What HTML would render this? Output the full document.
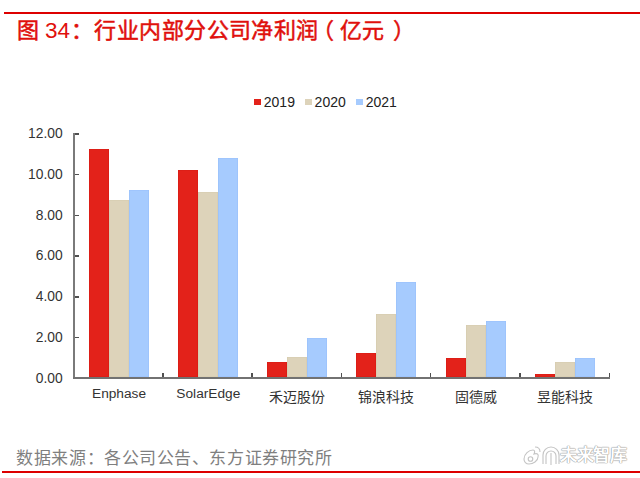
<!DOCTYPE html>
<html lang="zh-CN"><head><meta charset="utf-8">
<style>
*{margin:0;padding:0;box-sizing:border-box}
html,body{width:640px;height:478px;background:#fff;overflow:hidden}
body{position:relative;font-family:"Liberation Sans",sans-serif}
#tl{position:absolute;left:4px;top:12px;width:636px;height:2px;background:#dd0000}
#bl{position:absolute;left:2px;top:471px;width:638px;height:2px;background:#dd0000}
.t{position:absolute;top:18px;font-size:22px;line-height:26px;color:#e0100c;white-space:nowrap;-webkit-text-stroke:0.5px #e0100c}
.t.n{font-size:22.5px;top:17.8px;-webkit-text-stroke:0}
#foot{position:absolute;left:16.4px;top:449px;font-size:17px;letter-spacing:0.55px;line-height:20px;color:#7f7f7f;white-space:nowrap}
.wm{position:absolute;top:443px;font-size:17px;line-height:22px;color:#fff;white-space:nowrap;font-weight:bold;text-shadow:0 0 1px #999,0 0 1px #999,0 0 1px #999}
.bar{position:absolute}
#yax{position:absolute;left:73px;top:133px;width:2px;height:246px;background:#7a7a7a}
#xax{position:absolute;left:73px;top:377px;width:537px;height:2px;background:#727272}
.yt{position:absolute;left:75px;width:4px;height:1.5px;background:#505050}
.xt{position:absolute;top:373px;width:1.5px;height:4px;background:#505050}
.yl{position:absolute;left:12.6px;width:50px;text-align:right;font-size:13.8px;line-height:20px;color:#333;}
.xl{position:absolute;width:100px;text-align:center;font-size:13.5px;line-height:20px;color:#333;white-space:nowrap}
.lg{position:absolute;top:98.5px;width:6.8px;height:6.5px}
.lt{position:absolute;top:92.5px;font-size:14px;line-height:18px;color:#222}
</style></head><body>
<div id="tl"></div>
<div class="t" style="left:16.5px">图</div>
<div class="t n" style="left:44.9px">34</div>
<div class="t" style="left:71px">：</div>
<div class="t" style="left:94.3px;letter-spacing:0.45px">行业内部分公司净利润</div>
<div class="t" style="left:311.8px">（</div>
<div class="t" style="left:340px;letter-spacing:0.45px">亿元</div>
<div class="t" style="left:392.9px">）</div>
<div class="lg" style="left:254.2px;background:#e3221a"></div><div class="lt" style="left:263.8px">2019</div>
<div class="lg" style="left:305.3px;background:#ddd3ba"></div><div class="lt" style="left:314.6px">2020</div>
<div class="lg" style="left:356.4px;background:#a6cbfe"></div><div class="lt" style="left:365.7px">2021</div>
<div class="bar" style="left:88.60px;top:149.00px;width:20px;height:228.00px;background:#e3221a;box-shadow:inset 0 0 0 0.6px #d81c14"></div>
<div class="bar" style="left:108.60px;top:200.20px;width:20px;height:176.80px;background:#ddd3ba;box-shadow:inset 0 0 0 0.6px #d6cbae"></div>
<div class="bar" style="left:128.60px;top:190.00px;width:20px;height:187.00px;background:#a6cbfe;box-shadow:inset 0 0 0 0.6px #98c0fb"></div>
<div class="xl" style="left:69.04px;top:384px;font-size:13.7px">Enphase</div>
<div class="bar" style="left:177.88px;top:169.75px;width:20px;height:207.25px;background:#e3221a;box-shadow:inset 0 0 0 0.6px #d81c14"></div>
<div class="bar" style="left:197.88px;top:192.25px;width:20px;height:184.75px;background:#ddd3ba;box-shadow:inset 0 0 0 0.6px #d6cbae"></div>
<div class="bar" style="left:217.88px;top:158.25px;width:20px;height:218.75px;background:#a6cbfe;box-shadow:inset 0 0 0 0.6px #98c0fb"></div>
<div class="xl" style="left:158.32px;top:384px;font-size:13.7px">SolarEdge</div>
<div class="bar" style="left:267.16px;top:361.80px;width:20px;height:15.20px;background:#e3221a;box-shadow:inset 0 0 0 0.6px #d81c14"></div>
<div class="bar" style="left:287.16px;top:356.70px;width:20px;height:20.30px;background:#ddd3ba;box-shadow:inset 0 0 0 0.6px #d6cbae"></div>
<div class="bar" style="left:307.16px;top:338.40px;width:20px;height:38.60px;background:#a6cbfe;box-shadow:inset 0 0 0 0.6px #98c0fb"></div>
<div class="xl" style="left:247.10px;top:387.3px;font-size:14px">禾迈股份</div>
<div class="bar" style="left:356.44px;top:352.50px;width:20px;height:24.50px;background:#e3221a;box-shadow:inset 0 0 0 0.6px #d81c14"></div>
<div class="bar" style="left:376.44px;top:313.80px;width:20px;height:63.20px;background:#ddd3ba;box-shadow:inset 0 0 0 0.6px #d6cbae"></div>
<div class="bar" style="left:396.44px;top:281.80px;width:20px;height:95.20px;background:#a6cbfe;box-shadow:inset 0 0 0 0.6px #98c0fb"></div>
<div class="xl" style="left:336.38px;top:387.3px;font-size:14px">锦浪科技</div>
<div class="bar" style="left:445.72px;top:357.50px;width:20px;height:19.50px;background:#e3221a;box-shadow:inset 0 0 0 0.6px #d81c14"></div>
<div class="bar" style="left:465.72px;top:325.20px;width:20px;height:51.80px;background:#ddd3ba;box-shadow:inset 0 0 0 0.6px #d6cbae"></div>
<div class="bar" style="left:485.72px;top:321.00px;width:20px;height:56.00px;background:#a6cbfe;box-shadow:inset 0 0 0 0.6px #98c0fb"></div>
<div class="xl" style="left:425.66px;top:387.3px;font-size:14px">固德威</div>
<div class="bar" style="left:535.00px;top:373.80px;width:20px;height:3.20px;background:#e3221a;box-shadow:inset 0 0 0 0.6px #d81c14"></div>
<div class="bar" style="left:555.00px;top:362.30px;width:20px;height:14.70px;background:#ddd3ba;box-shadow:inset 0 0 0 0.6px #d6cbae"></div>
<div class="bar" style="left:575.00px;top:357.70px;width:20px;height:19.30px;background:#a6cbfe;box-shadow:inset 0 0 0 0.6px #98c0fb"></div>
<div class="xl" style="left:514.94px;top:387.3px;font-size:14px">昱能科技</div>
<div class="xt" style="left:162.13px"></div>
<div class="xt" style="left:251.41px"></div>
<div class="xt" style="left:340.69px"></div>
<div class="xt" style="left:429.97px"></div>
<div class="xt" style="left:519.25px"></div>
<div class="xt" style="left:608.53px"></div>
<div class="yt" style="top:133.15px"></div>
<div class="yl" style="top:124.20px">12.00</div>
<div class="yt" style="top:173.87px"></div>
<div class="yl" style="top:164.92px">10.00</div>
<div class="yt" style="top:214.59px"></div>
<div class="yl" style="top:205.64px">8.00</div>
<div class="yt" style="top:255.31px"></div>
<div class="yl" style="top:246.36px">6.00</div>
<div class="yt" style="top:296.03px"></div>
<div class="yl" style="top:287.08px">4.00</div>
<div class="yt" style="top:336.75px"></div>
<div class="yl" style="top:327.80px">2.00</div>
<div class="yl" style="top:368.52px">0.00</div>
<div id="yax"></div>
<div id="xax"></div>
<div id="foot">数据来源：各公司公告、东方证券研究所</div>
<svg style="position:absolute;left:520px;top:444px" width="42" height="22" viewBox="0 0 42 22">
<g fill="none" stroke="#c4c4c4" stroke-width="1.1">
<path d="M4 15 C4 10 9 6 13 6 C15 6 15 8 14 10 C17 9 19 10 18 13 C18 17 13 20 9 20 C6 20 4 18 4 15 Z"/>
<circle cx="10.5" cy="15" r="2.3"/>
<path d="M15 3 C18 3 20 5 20 8"/>
<path d="M23 20 V11 A8 8 0 0 1 39 11 V20"/>
<path d="M26 20 V12 A5 5 0 0 1 36 12 V20"/>
<path d="M31 9 V21"/>
</g></svg>
<div class="wm" style="left:560px;top:444.5px;letter-spacing:-0.3px">未来智库</div>
<div id="bl"></div>
</body></html>
